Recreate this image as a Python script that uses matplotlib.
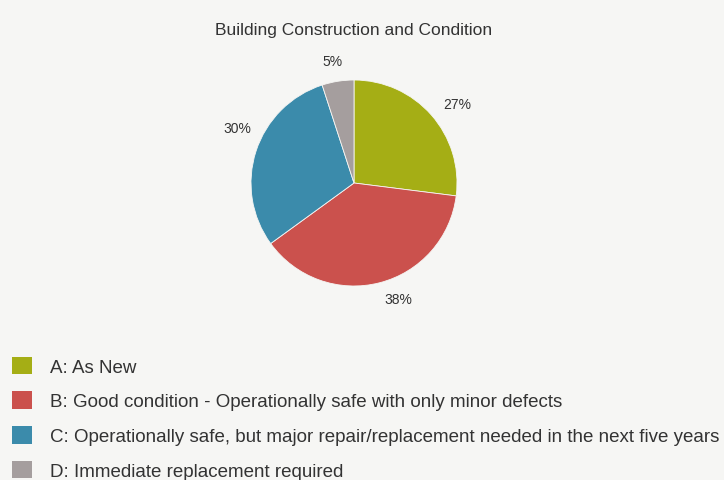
import matplotlib
matplotlib.use("Agg")
import matplotlib.pyplot as plt
from matplotlib.patches import Patch

title = "Building Construction and Condition"
categories = ["A: As New",
              "B: Good condition - Operationally safe with only minor defects",
              "C: Operationally safe, but major repair/replacement needed in the next five years",
              "D: Immediate replacement required"]
values = [27, 38, 30, 5]
colors = ["#a5ae15", "#cb514d", "#3b8bab", "#a59e9e"]
bg = "#f6f6f4"

# label positions (in pie units, radius = 1)
label_pos = [(1.0, 0.77), (0.43, -1.13), (-1.13, 0.53), (-0.21, 1.18)]

plt.rcParams['font.family'] = ['Liberation Sans', 'DejaVu Sans']

W, H = 724, 481
fig = plt.figure(figsize=(W / 100, H / 100), dpi=100, facecolor=bg)

cx, cy, r = 354, 184, 103
ax = fig.add_axes([(cx - r) / W, 1 - (cy + r) / H, 2 * r / W, 2 * r / H])
ax.set_facecolor(bg)
wedges, texts, autotexts = ax.pie(values, colors=colors, startangle=90, counterclock=False,
                                  autopct='%d%%', pctdistance=1.22,
                                  wedgeprops=dict(linewidth=0.6, edgecolor=bg),
                                  textprops=dict(fontsize=10, color="#333333"))
for t, p in zip(autotexts, label_pos):
    t.set_position(p)
ax.set_xlim(-1, 1)
ax.set_ylim(-1, 1)
ax.set_aspect('equal')
ax.axis('off')

fig.text(cx / W, 1 - 30 / H, title, ha='center', va='center', fontsize=12.5, color="#333333")

handles = [Patch(facecolor=c, edgecolor='none') for c in colors]
leg = fig.legend(handles, categories, loc='upper left', bbox_to_anchor=(4 / W, 1 - 350 / H),
                 frameon=False, fontsize=13.5, handlelength=1.07, handleheight=1.07,
                 handletextpad=0.96, labelspacing=0.83, borderaxespad=0)
for t in leg.get_texts():
    t.set_color("#333333")

fig.savefig("out.png", dpi=100, facecolor=bg)
